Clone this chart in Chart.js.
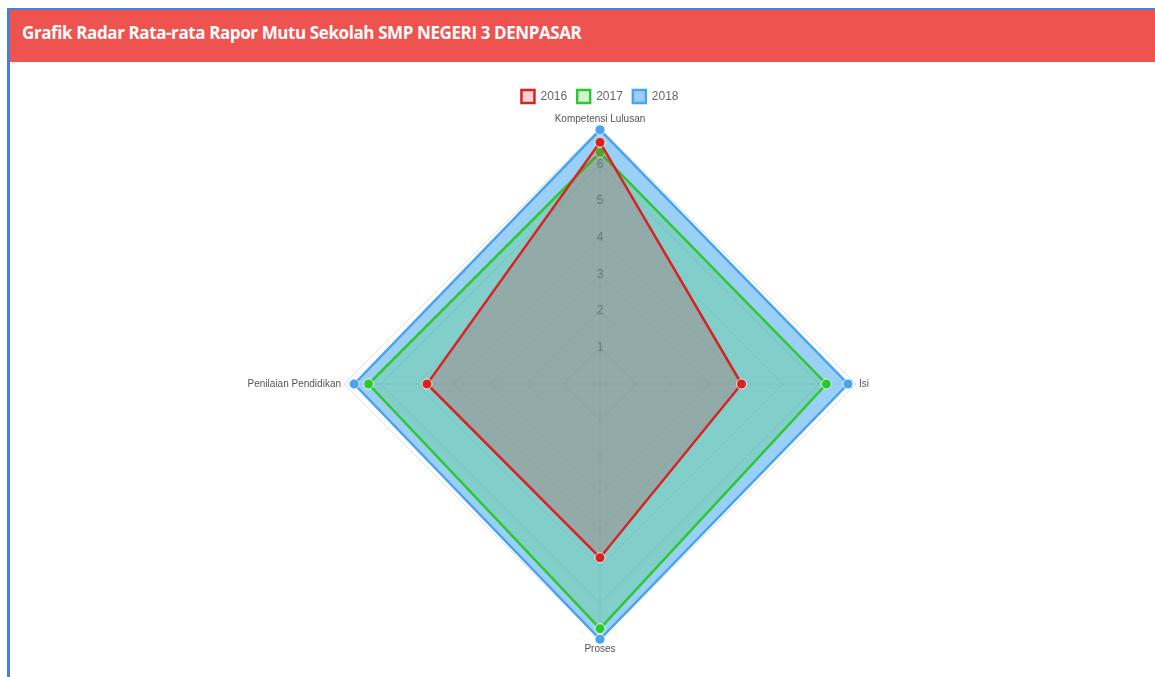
<!DOCTYPE html>
<html>
<head>
<meta charset="utf-8">
<script src="https://cdn.jsdelivr.net/npm/chart.js@4.4.0/dist/chart.umd.min.js"></script>
<style>
  html, body { margin: 0; padding: 0; background: #fff; }
  .card {
    position: absolute; left: 7px; top: 8px; width: 1200px; height: 668px;
    border-top: 2px solid #4a7fd6; border-left: 3px solid #4a7fd6;
    border-bottom: 1px solid #e6e6e6; background: #fff;
  }
  .card-header {
    height: 52px; background: #ef5350; color: #fff;
    font-family: "Open Sans", sans-serif; font-weight: bold; font-size: 17px;
    line-height: 46px; padding-left: 12px; letter-spacing: -0.4px;
  }
  .chart-box { position: absolute; left: 35px; top: 70px; width: 1110px; height: 576px; }
</style>
</head>
<body>
<div class="card">
  <div class="card-header">Grafik Radar Rata-rata Rapor Mutu Sekolah SMP NEGERI 3 DENPASAR</div>
  <div class="chart-box"><canvas id="radarChart"></canvas></div>
</div>
<script>
const labels = ["Kompetensi Lulusan", "Isi", "Proses", "Penilaian Pendidikan"];
const years = ["2016", "2017", "2018"];
const data2016 = [6.61, 3.87, 4.75, 4.73];
const data2017 = [6.33, 6.19, 6.69, 6.33];
const data2018 = [6.95, 6.78, 6.98, 6.72];
const tickMax = 7;

const colors = [
  { line: "#d92222", fill: "rgba(220, 30, 30, 0.2)" },
  { line: "#2ec82e", fill: "rgba(30, 200, 30, 0.2)" },
  { line: "#4aa3f0", fill: "rgba(54, 162, 235, 0.5)" }
];

const datasets = [data2016, data2017, data2018].map((values, i) => ({
  label: years[i],
  data: values,
  backgroundColor: colors[i].fill,
  borderColor: colors[i].line,
  borderWidth: 2.5,
  pointBackgroundColor: colors[i].line,
  pointBorderColor: "rgba(255,255,255,0.8)",
  pointBorderWidth: 1,
  pointRadius: 5,
  fill: true
}));

const ctx = document.getElementById("radarChart").getContext("2d");

new Chart(ctx, {
  type: "radar",
  data: {
    labels: labels,
    datasets: datasets
  },
  options: {
    responsive: true,
    maintainAspectRatio: false,
    animation: false,
    plugins: {
      legend: {
        position: "top",
        labels: {
          boxWidth: 13,
          boxHeight: 13,
          color: "#666",
          font: { family: "Liberation Sans, Arial, sans-serif", size: 12 }
        }
      },
      tooltip: { enabled: false }
    },
    scales: {
      r: {
        min: 0,
        max: tickMax,
        ticks: {
          stepSize: 1,
          showLabelBackdrop: false,
          color: "#666",
          font: { family: "Liberation Sans, Arial, sans-serif", size: 12 },
          callback: v => (v === tickMax ? "" : v)
        },
        grid: { color: "rgba(0,0,0,0.1)" },
        angleLines: { color: "rgba(0,0,0,0.1)" },
        pointLabels: {
          padding: -5,
          color: "#555",
          font: { family: "Liberation Sans, Arial, sans-serif", size: 10 }
        }
      }
    }
  }
});
</script>
</body>
</html>
